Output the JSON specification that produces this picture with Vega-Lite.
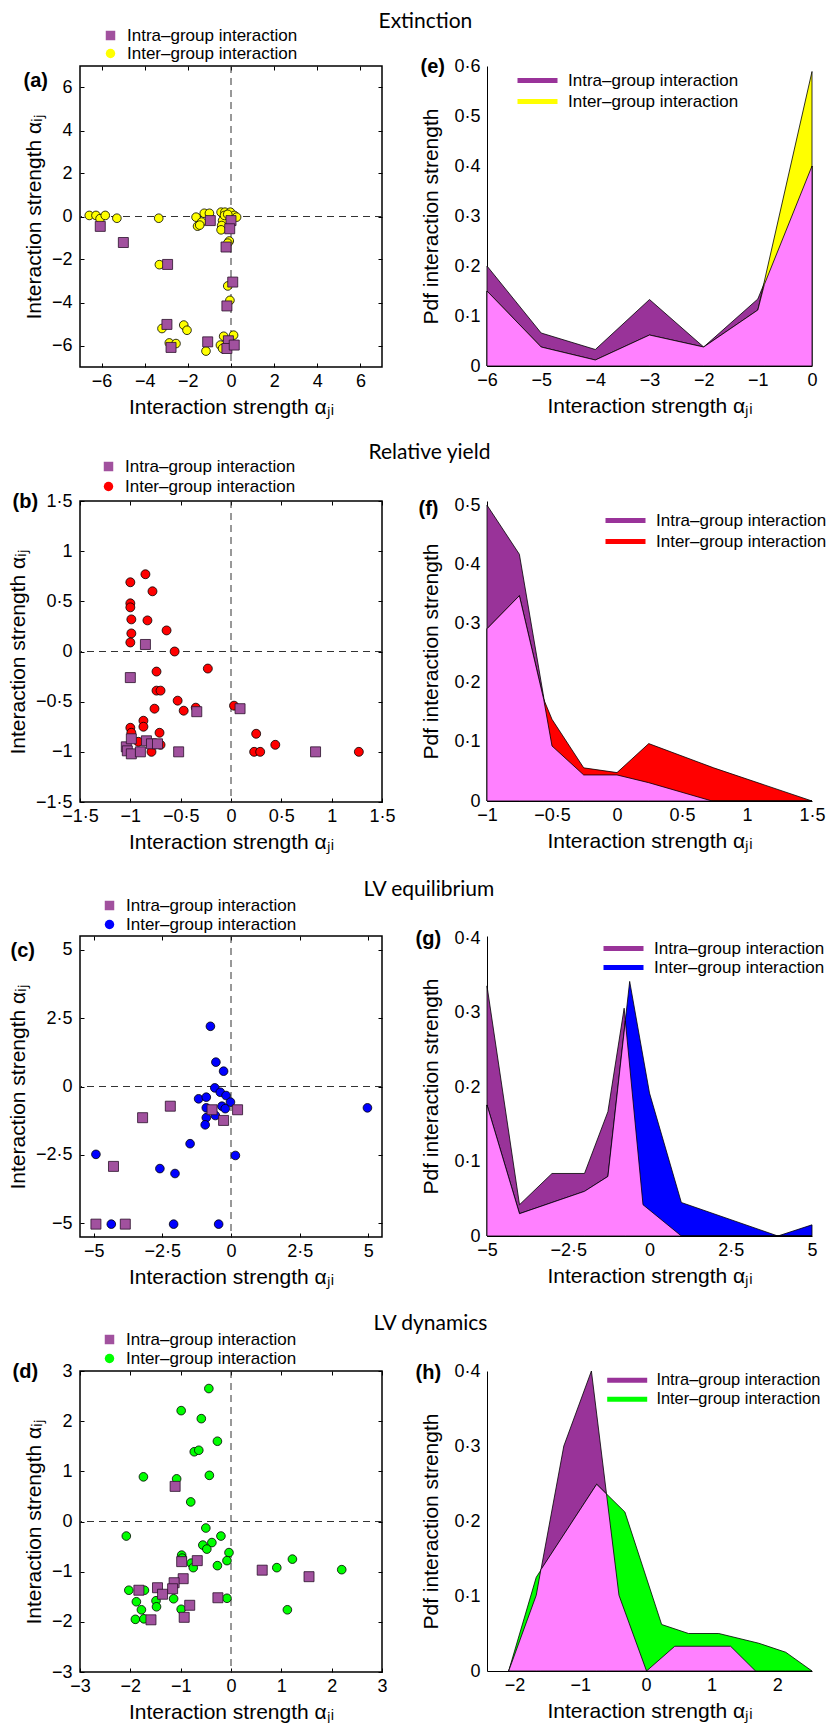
{
"$schema":"https://vega.github.io/schema/vega-lite/v6.json",
"padding":{"left":6,"top":9,"right":0,"bottom":0},
"background":"white",
"config":{
 "view":{"stroke":null},
 "axis":{"labelFont":"Liberation Sans","titleFont":"Liberation Sans","labelFontSize":18,"titleFontSize":21,"titleFontWeight":"normal","labelColor":"black","titleColor":"black","tickColor":"black","domainColor":"black","grid":false,"labelFlush":false,"labelOverlap":false,"format":".3~g"},
 "legend":{"labelFont":"Liberation Sans","labelFontSize":17,"labelColor":"black","labelLimit":0}
},
"datasets":{
"pa":[
{"x":-6.57,"y":0.05,"g":"Inter"},{"x":-6.26,"y":0.05,"g":"Inter"},{"x":-6.07,"y":-0.1,"g":"Inter"},{"x":-5.83,"y":0.05,"g":"Inter"},{"x":-5.29,"y":-0.08,"g":"Inter"},{"x":-3.35,"y":-0.08,"g":"Inter"},{"x":-3.32,"y":-2.24,"g":"Inter"},
{"x":-1.62,"y":-0.03,"g":"Inter"},{"x":-1.24,"y":0.15,"g":"Inter"},{"x":-1.0,"y":0.15,"g":"Inter"},{"x":-1.55,"y":-0.45,"g":"Inter"},{"x":-1.36,"y":-0.26,"g":"Inter"},{"x":-1.45,"y":-0.4,"g":"Inter"},
{"x":-0.46,"y":0.2,"g":"Inter"},{"x":-0.28,"y":0.2,"g":"Inter"},{"x":-0.03,"y":0.2,"g":"Inter"},{"x":0.15,"y":0.05,"g":"Inter"},{"x":0.26,"y":-0.03,"g":"Inter"},{"x":-0.39,"y":-0.19,"g":"Inter"},{"x":-0.43,"y":-0.42,"g":"Inter"},{"x":-0.46,"y":-0.62,"g":"Inter"},{"x":-0.3,"y":0.05,"g":"Inter"},{"x":-0.15,"y":0.1,"g":"Inter"},
{"x":-0.08,"y":-1.14,"g":"Inter"},{"x":-0.15,"y":-1.24,"g":"Inter"},{"x":-0.15,"y":-3.23,"g":"Inter"},{"x":-0.05,"y":-3.9,"g":"Inter"},
{"x":-3.2,"y":-5.21,"g":"Inter"},{"x":-2.19,"y":-5.05,"g":"Inter"},{"x":-2.04,"y":-5.29,"g":"Inter"},{"x":-2.86,"y":-5.88,"g":"Inter"},{"x":-2.55,"y":-5.91,"g":"Inter"},{"x":-1.16,"y":-6.26,"g":"Inter"},
{"x":-0.34,"y":-5.57,"g":"Inter"},{"x":-0.49,"y":-5.98,"g":"Inter"},{"x":0.12,"y":-5.52,"g":"Inter"},{"x":-0.39,"y":-6.14,"g":"Inter"},
{"x":-6.06,"y":-0.46,"g":"Intra"},{"x":-4.99,"y":-1.21,"g":"Intra"},{"x":-2.94,"y":-2.23,"g":"Intra"},{"x":-0.96,"y":-0.19,"g":"Intra"},{"x":0.0,"y":-0.19,"g":"Intra"},{"x":-0.06,"y":-0.57,"g":"Intra"},{"x":-0.23,"y":-1.42,"g":"Intra"},{"x":0.08,"y":-3.05,"g":"Intra"},{"x":-0.19,"y":-4.16,"g":"Intra"},{"x":-2.97,"y":-5.02,"g":"Intra"},{"x":-2.78,"y":-6.09,"g":"Intra"},{"x":-1.08,"y":-5.83,"g":"Intra"},{"x":-0.12,"y":-5.78,"g":"Intra"},{"x":-0.19,"y":-6.14,"g":"Intra"},{"x":0.15,"y":-5.98,"g":"Intra"}
],
"pb":[
{"x":-1.0,"y":0.69,"g":"Inter"},{"x":-0.85,"y":0.77,"g":"Inter"},{"x":-0.78,"y":0.6,"g":"Inter"},{"x":-1.0,"y":0.48,"g":"Inter"},{"x":-1.0,"y":0.44,"g":"Inter"},{"x":-0.99,"y":0.32,"g":"Inter"},{"x":-0.83,"y":0.31,"g":"Inter"},{"x":-0.64,"y":0.21,"g":"Inter"},{"x":-0.99,"y":0.18,"g":"Inter"},{"x":-1.0,"y":0.09,"g":"Inter"},{"x":-0.56,"y":0.0,"g":"Inter"},{"x":-0.74,"y":-0.2,"g":"Inter"},{"x":-0.74,"y":-0.39,"g":"Inter"},{"x":-0.7,"y":-0.39,"g":"Inter"},{"x":-0.53,"y":-0.49,"g":"Inter"},{"x":-0.76,"y":-0.57,"g":"Inter"},{"x":-0.47,"y":-0.59,"g":"Inter"},{"x":-0.35,"y":-0.56,"g":"Inter"},{"x":-0.23,"y":-0.17,"g":"Inter"},{"x":-0.87,"y":-0.69,"g":"Inter"},{"x":-0.87,"y":-0.75,"g":"Inter"},{"x":-1.0,"y":-0.76,"g":"Inter"},{"x":-0.99,"y":-0.81,"g":"Inter"},{"x":-0.71,"y":-0.81,"g":"Inter"},{"x":-0.7,"y":-0.93,"g":"Inter"},{"x":-0.79,"y":-1.0,"g":"Inter"},{"x":-0.92,"y":-0.9,"g":"Inter"},{"x":0.03,"y":-0.54,"g":"Inter"},{"x":0.25,"y":-0.82,"g":"Inter"},{"x":0.23,"y":-1.0,"g":"Inter"},{"x":0.29,"y":-1.0,"g":"Inter"},{"x":0.44,"y":-0.93,"g":"Inter"},{"x":1.27,"y":-1.0,"g":"Inter"},
{"x":-0.85,"y":0.07,"g":"Intra"},{"x":-1.0,"y":-0.26,"g":"Intra"},{"x":-0.34,"y":-0.6,"g":"Intra"},{"x":0.09,"y":-0.57,"g":"Intra"},{"x":-0.52,"y":-1.0,"g":"Intra"},{"x":0.84,"y":-1.0,"g":"Intra"},{"x":-1.04,"y":-0.95,"g":"Intra"},{"x":-1.03,"y":-0.99,"g":"Intra"},{"x":-0.99,"y":-0.87,"g":"Intra"},{"x":-0.99,"y":-1.02,"g":"Intra"},{"x":-0.9,"y":-1.0,"g":"Intra"},{"x":-0.84,"y":-0.89,"g":"Intra"},{"x":-0.79,"y":-0.92,"g":"Intra"},{"x":-0.73,"y":-0.92,"g":"Intra"}
],
"pc":[
{"x":-0.75,"y":2.2,"g":"Inter"},{"x":-0.55,"y":0.89,"g":"Inter"},{"x":-0.27,"y":0.56,"g":"Inter"},{"x":-0.59,"y":-0.05,"g":"Inter"},{"x":-0.39,"y":-0.21,"g":"Inter"},{"x":-0.18,"y":-0.33,"g":"Inter"},{"x":-1.18,"y":-0.45,"g":"Inter"},{"x":-0.9,"y":-0.39,"g":"Inter"},{"x":-0.02,"y":-0.57,"g":"Inter"},{"x":-0.33,"y":-0.72,"g":"Inter"},{"x":-0.21,"y":-0.81,"g":"Inter"},{"x":-0.9,"y":-0.78,"g":"Inter"},{"x":-0.57,"y":-1.06,"g":"Inter"},{"x":-0.9,"y":-1.14,"g":"Inter"},{"x":-0.94,"y":-1.4,"g":"Inter"},{"x":-1.49,"y":-2.09,"g":"Inter"},{"x":0.16,"y":-2.52,"g":"Inter"},{"x":-2.59,"y":-3.0,"g":"Inter"},{"x":-2.04,"y":-3.18,"g":"Inter"},{"x":-2.09,"y":-5.03,"g":"Inter"},{"x":-0.45,"y":-5.03,"g":"Inter"},{"x":4.97,"y":-0.78,"g":"Inter"},{"x":-4.92,"y":-2.48,"g":"Inter"},{"x":-4.36,"y":-5.03,"g":"Inter"},
{"x":-4.92,"y":-5.03,"g":"Intra"},{"x":-3.85,"y":-5.03,"g":"Intra"},{"x":-4.28,"y":-2.92,"g":"Intra"},{"x":-3.22,"y":-1.14,"g":"Intra"},{"x":-2.21,"y":-0.72,"g":"Intra"},{"x":-0.69,"y":-0.85,"g":"Intra"},{"x":-0.27,"y":-1.24,"g":"Intra"},{"x":0.24,"y":-0.85,"g":"Intra"}
],
"pd":[
{"x":-0.44,"y":2.65,"g":"Inter"},{"x":-0.99,"y":2.21,"g":"Inter"},{"x":-0.59,"y":2.05,"g":"Inter"},{"x":-0.27,"y":1.6,"g":"Inter"},{"x":-0.73,"y":1.39,"g":"Inter"},{"x":-0.64,"y":1.42,"g":"Inter"},{"x":-0.43,"y":0.92,"g":"Inter"},{"x":-1.08,"y":0.85,"g":"Inter"},{"x":-0.8,"y":0.39,"g":"Inter"},{"x":-0.5,"y":-0.13,"g":"Inter"},{"x":-0.2,"y":-0.29,"g":"Inter"},{"x":-0.56,"y":-0.47,"g":"Inter"},{"x":-0.38,"y":-0.42,"g":"Inter"},{"x":-0.48,"y":-0.55,"g":"Inter"},{"x":-0.04,"y":-0.62,"g":"Inter"},{"x":-0.08,"y":-0.78,"g":"Inter"},{"x":-0.27,"y":-0.88,"g":"Inter"},{"x":-0.79,"y":-0.83,"g":"Inter"},{"x":-0.75,"y":-0.92,"g":"Inter"},{"x":-0.98,"y":-0.67,"g":"Inter"},{"x":-0.97,"y":-0.73,"g":"Inter"},{"x":-1.14,"y":-1.54,"g":"Inter"},{"x":-0.08,"y":-1.53,"g":"Inter"},{"x":-0.99,"y":-1.75,"g":"Inter"},{"x":0.91,"y":-0.92,"g":"Inter"},{"x":1.22,"y":-0.75,"g":"Inter"},{"x":1.12,"y":-1.76,"g":"Inter"},{"x":2.2,"y":-0.96,"g":"Inter"},{"x":-1.74,"y":0.89,"g":"Inter"},{"x":-2.08,"y":-0.29,"g":"Inter"},{"x":-2.03,"y":-1.37,"g":"Inter"},{"x":-1.88,"y":-1.6,"g":"Inter"},{"x":-1.78,"y":-1.76,"g":"Inter"},{"x":-1.9,"y":-1.95,"g":"Inter"},{"x":-1.73,"y":-1.94,"g":"Inter"},{"x":-1.72,"y":-1.37,"g":"Inter"},{"x":-1.49,"y":-1.58,"g":"Inter"},{"x":-1.48,"y":-1.7,"g":"Inter"},
{"x":-1.11,"y":0.7,"g":"Intra"},{"x":-0.98,"y":-0.8,"g":"Intra"},{"x":-0.67,"y":-0.78,"g":"Intra"},{"x":0.62,"y":-0.97,"g":"Intra"},{"x":1.55,"y":-1.1,"g":"Intra"},{"x":-0.95,"y":-1.14,"g":"Intra"},{"x":-1.13,"y":-1.22,"g":"Intra"},{"x":-1.16,"y":-1.34,"g":"Intra"},{"x":-0.26,"y":-1.52,"g":"Intra"},{"x":-0.82,"y":-1.67,"g":"Intra"},{"x":-0.93,"y":-1.91,"g":"Intra"},{"x":-1.83,"y":-1.37,"g":"Intra"},{"x":-1.46,"y":-1.32,"g":"Intra"},{"x":-1.36,"y":-1.45,"g":"Intra"},{"x":-1.59,"y":-1.96,"g":"Intra"}
],
"ce":[
{"x":-6,"y":0.2,"g":"Intra"},{"x":-5,"y":0.066,"g":"Intra"},{"x":-4,"y":0.033,"g":"Intra"},{"x":-3,"y":0.133,"g":"Intra"},{"x":-2,"y":0.038,"g":"Intra"},{"x":-1,"y":0.134,"g":"Intra"},{"x":0,"y":0.4,"g":"Intra"},
{"x":-6,"y":0.15,"g":"Inter"},{"x":-5,"y":0.038,"g":"Inter"},{"x":-4,"y":0.012,"g":"Inter"},{"x":-3,"y":0.062,"g":"Inter"},{"x":-2,"y":0.038,"g":"Inter"},{"x":-1,"y":0.112,"g":"Inter"},{"x":0,"y":0.589,"g":"Inter"}
],
"oe":[{"x":-6,"y":0.15},{"x":-5,"y":0.038},{"x":-4,"y":0.012},{"x":-3,"y":0.062},{"x":-2,"y":0.038},{"x":-1,"y":0.112},{"x":-0.88,"y":0.163},{"x":0,"y":0.4}],
"cf":[
{"x":-1,"y":0.5,"g":"Intra"},{"x":-0.751,"y":0.417,"g":"Intra"},{"x":-0.5,"y":0.093,"g":"Intra"},{"x":-0.256,"y":0.044,"g":"Intra"},{"x":0,"y":0.044,"g":"Intra"},{"x":0.244,"y":0.031,"g":"Intra"},{"x":0.731,"y":0,"g":"Intra"},{"x":1.5,"y":0,"g":"Intra"},
{"x":-1,"y":0.291,"g":"Inter"},{"x":-0.751,"y":0.347,"g":"Inter"},{"x":-0.564,"y":0.172,"g":"Inter"},{"x":-0.5,"y":0.138,"g":"Inter"},{"x":-0.256,"y":0.056,"g":"Inter"},{"x":0,"y":0.048,"g":"Inter"},{"x":0.244,"y":0.097,"g":"Inter"},{"x":0.744,"y":0.056,"g":"Inter"},{"x":1.5,"y":0,"g":"Inter"}
],
"of":[{"x":-1,"y":0.291},{"x":-0.751,"y":0.347},{"x":-0.564,"y":0.172},{"x":-0.5,"y":0.093},{"x":-0.256,"y":0.044},{"x":0,"y":0.044},{"x":0.244,"y":0.031},{"x":0.731,"y":0},{"x":1.5,"y":0}],
"cg":[
{"x":-5,"y":0.336,"g":"Intra"},{"x":-4,"y":0.042,"g":"Intra"},{"x":-3,"y":0.084,"g":"Intra"},{"x":-2,"y":0.084,"g":"Intra"},{"x":-1.28,"y":0.167,"g":"Intra"},{"x":-0.78,"y":0.306,"g":"Intra"},{"x":-0.2,"y":0.042,"g":"Intra"},{"x":0.98,"y":0,"g":"Intra"},{"x":5,"y":0,"g":"Intra"},
{"x":-5,"y":0.176,"g":"Inter"},{"x":-4,"y":0.03,"g":"Inter"},{"x":-2,"y":0.06,"g":"Inter"},{"x":-1.28,"y":0.08,"g":"Inter"},{"x":-0.61,"y":0.342,"g":"Inter"},{"x":0,"y":0.192,"g":"Inter"},{"x":0.98,"y":0.045,"g":"Inter"},{"x":3.95,"y":0,"g":"Inter"},{"x":5,"y":0.015,"g":"Inter"}
],
"og":[{"x":-5,"y":0.176},{"x":-4,"y":0.03},{"x":-2,"y":0.06},{"x":-1.28,"y":0.08},{"x":-0.743,"y":0.289},{"x":-0.2,"y":0.042},{"x":0.98,"y":0},{"x":5,"y":0}],
"ch":[
{"x":-2.09,"y":0,"g":"Intra"},{"x":-1.67,"y":0.101,"g":"Intra"},{"x":-1.25,"y":0.3,"g":"Intra"},{"x":-0.83,"y":0.4,"g":"Intra"},{"x":-0.41,"y":0.101,"g":"Intra"},{"x":0.01,"y":0,"g":"Intra"},{"x":0.44,"y":0.033,"g":"Intra"},{"x":1.29,"y":0.033,"g":"Intra"},{"x":1.67,"y":0,"g":"Intra"},
{"x":-2.09,"y":0,"g":"Inter"},{"x":-1.67,"y":0.125,"g":"Inter"},{"x":-0.75,"y":0.249,"g":"Inter"},{"x":-0.32,"y":0.212,"g":"Inter"},{"x":0.24,"y":0.062,"g":"Inter"},{"x":0.65,"y":0.05,"g":"Inter"},{"x":1.11,"y":0.05,"g":"Inter"},{"x":1.72,"y":0.037,"g":"Inter"},{"x":2.13,"y":0.025,"g":"Inter"},{"x":2.53,"y":0,"g":"Inter"}
],
"oh":[{"x":-2.09,"y":0},{"x":-1.67,"y":0.101},{"x":-1.6,"y":0.135},{"x":-0.75,"y":0.249},{"x":-0.6,"y":0.236},{"x":-0.41,"y":0.101},{"x":0.01,"y":0},{"x":0.44,"y":0.033},{"x":1.29,"y":0.033},{"x":1.67,"y":0}]
},
"columns":2,
"bounds":"flush",
"spacing":{"row":134,"column":105},
"resolve":{"scale":{"x":"independent","y":"independent","color":"independent","shape":"independent","fill":"independent"},"legend":{"color":"independent","shape":"independent","fill":"independent"},"axis":{"x":"independent","y":"independent"}},
"concat":[
 {"width":302,"height":301,"view":{"stroke":"black","strokeWidth":1.5},
  "layer":[
   {"data":{"values":[{}]},"mark":{"type":"rule","strokeDash":[7,5],"color":"#333333","strokeWidth":1},"encoding":{"x":{"datum":0,"type":"quantitative","scale":{"domain":[-7,7],"nice":false,"zero":false},"axis":null}}},
   {"data":{"values":[{}]},"mark":{"type":"rule","strokeDash":[7,5],"color":"#333333","strokeWidth":1},"encoding":{"y":{"datum":0,"type":"quantitative","scale":{"domain":[-7,7],"nice":false,"zero":false},"axis":null}}},
   {"data":{"name":"pa"},"transform":[{"filter":"datum.g == 'Inter'"}],"mark":{"type":"point","filled":true,"size":75,"opacity":1,"stroke":"black","strokeWidth":0.8},
    "encoding":{
     "x":{"field":"x","type":"quantitative","scale":{"domain":[-7,7],"nice":false,"zero":false},"axis":{"values":[-6,-4,-2,0,2,4,6],"labelExpr":"replace(datum.label, '.', '·')","tickSize":-4,"domain":false,"labelPadding":9,"title":"Interaction strength αⱼᵢ","titlePadding":6}},
     "y":{"field":"y","type":"quantitative","scale":{"domain":[-7,7],"nice":false,"zero":false},"axis":{"values":[-6,-4,-2,0,2,4,6],"labelExpr":"replace(datum.label, '.', '·')","tickSize":-4,"domain":false,"labelPadding":12,"title":"Interaction strength αᵢⱼ","titlePadding":7}},
     "color":{"field":"g","type":"nominal","scale":{"domain":["Intra","Inter"],"range":["#A1519E","#FFFF00"]},"legend":{"orient":"none","legendX":22,"legendY":-39,"title":null,"padding":0,"labelOffset":8,"rowPadding":0,"symbolSize":90,"symbolStrokeColor":"black","symbolStrokeWidth":0.8,"symbolOpacity":1,"labelExpr":"datum.label == 'Intra' ? 'Intra–group interaction' : 'Inter–group interaction'"}},
     "shape":{"field":"g","type":"nominal","scale":{"domain":["Intra","Inter"],"range":["square","circle"]},"legend":{"orient":"none","legendX":22,"legendY":-39,"title":null,"padding":0,"labelOffset":8,"rowPadding":0,"symbolSize":90,"symbolStrokeColor":"black","symbolStrokeWidth":0.8,"symbolOpacity":1,"labelExpr":"datum.label == 'Intra' ? 'Intra–group interaction' : 'Inter–group interaction'"}}
    }},
   {"data":{"name":"pa"},"transform":[{"filter":"datum.g == 'Intra'"}],"mark":{"type":"point","filled":true,"size":100,"opacity":1,"stroke":"#2A102A","strokeWidth":0.8},
    "encoding":{
     "x":{"field":"x","type":"quantitative","scale":{"domain":[-7,7],"nice":false,"zero":false},"axis":{"orient":"top","values":[-6,-4,-2,0,2,4,6],"tickSize":-4,"labels":false,"domain":false,"title":"(a)","titleX":-57,"titleY":20,"titleAlign":"left","titleBaseline":"alphabetic","titleAngle":0,"titleFontWeight":"bold","titleFontSize":20}},
     "y":{"field":"y","type":"quantitative","scale":{"domain":[-7,7],"nice":false,"zero":false},"axis":{"orient":"right","values":[-6,-4,-2,0,2,4,6],"tickSize":-4,"labels":false,"domain":false,"title":"Extinction","titleX":-4,"titleY":-39,"titleAlign":"left","titleBaseline":"alphabetic","titleAngle":0,"titleFont":"Lato","titleFontSize":21}},
     "color":{"field":"g","type":"nominal","scale":{"domain":["Intra","Inter"],"range":["#A1519E","#FFFF00"]},"legend":{"orient":"none","legendX":22,"legendY":-39,"title":null,"padding":0,"labelOffset":8,"rowPadding":0,"symbolSize":90,"symbolStrokeColor":"black","symbolStrokeWidth":0.8,"symbolOpacity":1,"labelExpr":"datum.label == 'Intra' ? 'Intra–group interaction' : 'Inter–group interaction'"}},
     "shape":{"field":"g","type":"nominal","scale":{"domain":["Intra","Inter"],"range":["square","circle"]},"legend":{"orient":"none","legendX":22,"legendY":-39,"title":null,"padding":0,"labelOffset":8,"rowPadding":0,"symbolSize":90,"symbolStrokeColor":"black","symbolStrokeWidth":0.8,"symbolOpacity":1,"labelExpr":"datum.label == 'Intra' ? 'Intra–group interaction' : 'Inter–group interaction'"}}
    }}
  ],
  "resolve":{"axis":{"x":"independent","y":"independent"}}
 },
 {"width":325,"height":300,
  "layer":[
   {"data":{"name":"ce"},"mark":{"type":"area","stroke":"black","strokeWidth":0.8,"opacity":1},
    "encoding":{
     "x":{"field":"x","type":"quantitative","scale":{"domain":[-6,0],"nice":false,"zero":false},"axis":{"values":[-6,-5,-4,-3,-2,-1,0],"labelExpr":"replace(datum.label, '.', '·')","ticks":false,"domain":true,"labelPadding":5,"title":"Interaction strength αⱼᵢ","titlePadding":6}},
     "y":{"field":"y","type":"quantitative","stack":null,"scale":{"domain":[0,0.6],"nice":false,"zero":false},"axis":{"values":[0,0.1,0.2,0.3,0.4,0.5,0.6],"labelExpr":"replace(datum.label, '.', '·')","ticks":false,"domain":true,"labelPadding":7,"title":"Pdf interaction strength","titlePadding":12}},
     "fill":{"field":"g","type":"nominal","scale":{"domain":["Intra","Inter"],"range":["#993399","#FFFF00"]},"legend":{"orient":"none","legendX":42,"legendY":6,"title":null,"padding":0,"symbolType":"M-4,-0.5H4V0.5H-4Z","symbolSize":100,"symbolStrokeWidth":0,"symbolStrokeColor":"transparent","symbolOpacity":1,"labelOffset":22,"rowPadding":3,"labelExpr":"datum.label == 'Intra' ? 'Intra–group interaction' : 'Inter–group interaction'"}}
    }},
   {"data":{"name":"oe"},"mark":{"type":"area","fill":"#FF80FF","stroke":"black","strokeWidth":0.8,"opacity":1},
    "encoding":{
     "x":{"field":"x","type":"quantitative","scale":{"domain":[-6,0],"nice":false,"zero":false},"axis":{"orient":"top","labels":false,"ticks":false,"domain":false,"title":"(e)","titleX":-67,"titleY":6,"titleAlign":"left","titleBaseline":"alphabetic","titleAngle":0,"titleFontWeight":"bold","titleFontSize":20}},
     "y":{"field":"y","type":"quantitative","stack":null,"scale":{"domain":[0,0.6],"nice":false,"zero":false},"axis":{"values":[0,0.1,0.2,0.3,0.4,0.5,0.6],"labelExpr":"replace(datum.label, '.', '·')","ticks":false,"domain":true,"labelPadding":7,"title":"Pdf interaction strength","titlePadding":12}}
    }}
  ],
  "resolve":{"axis":{"x":"independent"}}
 },
 {"width":302,"height":301,"view":{"stroke":"black","strokeWidth":1.5},
  "layer":[
   {"data":{"values":[{}]},"mark":{"type":"rule","strokeDash":[7,5],"color":"#333333","strokeWidth":1},"encoding":{"x":{"datum":0,"type":"quantitative","scale":{"domain":[-1.5,1.5],"nice":false,"zero":false},"axis":null}}},
   {"data":{"values":[{}]},"mark":{"type":"rule","strokeDash":[7,5],"color":"#333333","strokeWidth":1},"encoding":{"y":{"datum":0,"type":"quantitative","scale":{"domain":[-1.5,1.5],"nice":false,"zero":false},"axis":null}}},
   {"data":{"name":"pb"},"transform":[{"filter":"datum.g == 'Inter'"}],"mark":{"type":"point","filled":true,"size":80,"opacity":1,"stroke":"black","strokeWidth":0.8},
    "encoding":{
     "x":{"field":"x","type":"quantitative","scale":{"domain":[-1.5,1.5],"nice":false,"zero":false},"axis":{"values":[-1.5,-1,-0.5,0,0.5,1,1.5],"labelExpr":"replace(datum.label, '.', '·')","tickSize":-4,"domain":false,"labelPadding":9,"title":"Interaction strength αⱼᵢ","titlePadding":6}},
     "y":{"field":"y","type":"quantitative","scale":{"domain":[-1.5,1.5],"nice":false,"zero":false},"axis":{"values":[-1.5,-1,-0.5,0,0.5,1,1.5],"labelExpr":"replace(datum.label, '.', '·')","tickSize":-4,"domain":false,"labelPadding":12,"title":"Interaction strength αᵢⱼ","titlePadding":7}},
     "color":{"field":"g","type":"nominal","scale":{"domain":["Intra","Inter"],"range":["#A1519E","#FF0000"]},"legend":{"orient":"none","legendX":20,"legendY":-43,"title":null,"padding":0,"labelOffset":8,"rowPadding":2,"symbolSize":90,"symbolStrokeColor":"black","symbolStrokeWidth":0.8,"symbolOpacity":1,"labelExpr":"datum.label == 'Intra' ? 'Intra–group interaction' : 'Inter–group interaction'"}},
     "shape":{"field":"g","type":"nominal","scale":{"domain":["Intra","Inter"],"range":["square","circle"]},"legend":{"orient":"none","legendX":20,"legendY":-43,"title":null,"padding":0,"labelOffset":8,"rowPadding":2,"symbolSize":90,"symbolStrokeColor":"black","symbolStrokeWidth":0.8,"symbolOpacity":1,"labelExpr":"datum.label == 'Intra' ? 'Intra–group interaction' : 'Inter–group interaction'"}}
    }},
   {"data":{"name":"pb"},"transform":[{"filter":"datum.g == 'Intra'"}],"mark":{"type":"point","filled":true,"size":100,"opacity":1,"stroke":"#2A102A","strokeWidth":0.8},
    "encoding":{
     "x":{"field":"x","type":"quantitative","scale":{"domain":[-1.5,1.5],"nice":false,"zero":false},"axis":{"orient":"top","values":[-1.5,-1,-0.5,0,0.5,1,1.5],"tickSize":-4,"labels":false,"domain":false,"title":"(b)","titleX":-68,"titleY":6,"titleAlign":"left","titleBaseline":"alphabetic","titleAngle":0,"titleFontWeight":"bold","titleFontSize":20}},
     "y":{"field":"y","type":"quantitative","scale":{"domain":[-1.5,1.5],"nice":false,"zero":false},"axis":{"orient":"right","values":[-1.5,-1,-0.5,0,0.5,1,1.5],"tickSize":-4,"labels":false,"domain":false,"title":"Relative yield","titleX":-14,"titleY":-43,"titleAlign":"left","titleBaseline":"alphabetic","titleAngle":0,"titleFont":"Lato","titleFontSize":21}},
     "color":{"field":"g","type":"nominal","scale":{"domain":["Intra","Inter"],"range":["#A1519E","#FF0000"]},"legend":{"orient":"none","legendX":20,"legendY":-43,"title":null,"padding":0,"labelOffset":8,"rowPadding":2,"symbolSize":90,"symbolStrokeColor":"black","symbolStrokeWidth":0.8,"symbolOpacity":1,"labelExpr":"datum.label == 'Intra' ? 'Intra–group interaction' : 'Inter–group interaction'"}},
     "shape":{"field":"g","type":"nominal","scale":{"domain":["Intra","Inter"],"range":["square","circle"]},"legend":{"orient":"none","legendX":20,"legendY":-43,"title":null,"padding":0,"labelOffset":8,"rowPadding":2,"symbolSize":90,"symbolStrokeColor":"black","symbolStrokeWidth":0.8,"symbolOpacity":1,"labelExpr":"datum.label == 'Intra' ? 'Intra–group interaction' : 'Inter–group interaction'"}}
    }}
  ],
  "resolve":{"axis":{"x":"independent","y":"independent"}}
 },
 {"width":325,"height":300,
  "layer":[
   {"data":{"name":"cf"},"mark":{"type":"area","stroke":"black","strokeWidth":0.8,"opacity":1},
    "encoding":{
     "x":{"field":"x","type":"quantitative","scale":{"domain":[-1,1.5],"nice":false,"zero":false},"axis":{"values":[-1,-0.5,0,0.5,1,1.5],"labelExpr":"replace(datum.label, '.', '·')","ticks":false,"domain":true,"labelPadding":5,"title":"Interaction strength αⱼᵢ","titlePadding":6}},
     "y":{"field":"y","type":"quantitative","stack":null,"scale":{"domain":[0,0.507],"nice":false,"zero":false},"axis":{"values":[0,0.1,0.2,0.3,0.4,0.5],"labelExpr":"replace(datum.label, '.', '·')","ticks":false,"domain":true,"labelPadding":7,"title":"Pdf interaction strength","titlePadding":12}},
     "fill":{"field":"g","type":"nominal","scale":{"domain":["Intra","Inter"],"range":["#993399","#FF0000"]},"legend":{"orient":"none","legendX":130,"legendY":11,"title":null,"padding":0,"symbolType":"M-4,-0.5H4V0.5H-4Z","symbolSize":100,"symbolStrokeWidth":0,"symbolStrokeColor":"transparent","symbolOpacity":1,"labelOffset":22,"rowPadding":3,"labelExpr":"datum.label == 'Intra' ? 'Intra–group interaction' : 'Inter–group interaction'"}}
    }},
   {"data":{"name":"of"},"mark":{"type":"area","fill":"#FF80FF","stroke":"black","strokeWidth":0.8,"opacity":1},
    "encoding":{
     "x":{"field":"x","type":"quantitative","scale":{"domain":[-1,1.5],"nice":false,"zero":false},"axis":{"orient":"top","labels":false,"ticks":false,"domain":false,"title":"(f)","titleX":-69,"titleY":13,"titleAlign":"left","titleBaseline":"alphabetic","titleAngle":0,"titleFontWeight":"bold","titleFontSize":20}},
     "y":{"field":"y","type":"quantitative","stack":null,"scale":{"domain":[0,0.507],"nice":false,"zero":false},"axis":{"values":[0,0.1,0.2,0.3,0.4,0.5],"labelExpr":"replace(datum.label, '.', '·')","ticks":false,"domain":true,"labelPadding":7,"title":"Pdf interaction strength","titlePadding":12}}
    }}
  ],
  "resolve":{"axis":{"x":"independent"}}
 },
 {"width":302,"height":301,"view":{"stroke":"black","strokeWidth":1.5},
  "layer":[
   {"data":{"values":[{}]},"mark":{"type":"rule","strokeDash":[7,5],"color":"#333333","strokeWidth":1},"encoding":{"x":{"datum":0,"type":"quantitative","scale":{"domain":[-5.5,5.5],"nice":false,"zero":false},"axis":null}}},
   {"data":{"values":[{}]},"mark":{"type":"rule","strokeDash":[7,5],"color":"#333333","strokeWidth":1},"encoding":{"y":{"datum":0,"type":"quantitative","scale":{"domain":[-5.5,5.5],"nice":false,"zero":false},"axis":null}}},
   {"data":{"name":"pc"},"transform":[{"filter":"datum.g == 'Inter'"}],"mark":{"type":"point","filled":true,"size":75,"opacity":1,"stroke":"black","strokeWidth":0.8},
    "encoding":{
     "x":{"field":"x","type":"quantitative","scale":{"domain":[-5.5,5.5],"nice":false,"zero":false},"axis":{"values":[-5,-2.5,0,2.5,5],"labelExpr":"replace(datum.label, '.', '·')","tickSize":-4,"domain":false,"labelPadding":9,"title":"Interaction strength αⱼᵢ","titlePadding":6}},
     "y":{"field":"y","type":"quantitative","scale":{"domain":[-5.5,5.5],"nice":false,"zero":false},"axis":{"values":[-5,-2.5,0,2.5,5],"labelExpr":"replace(datum.label, '.', '·')","tickSize":-4,"domain":false,"labelPadding":12,"title":"Interaction strength αᵢⱼ","titlePadding":7}},
     "color":{"field":"g","type":"nominal","scale":{"domain":["Intra","Inter"],"range":["#A1519E","#0000FF"]},"legend":{"orient":"none","legendX":21,"legendY":-39,"title":null,"padding":0,"labelOffset":8,"rowPadding":1,"symbolSize":90,"symbolStrokeColor":"black","symbolStrokeWidth":0.8,"symbolOpacity":1,"labelExpr":"datum.label == 'Intra' ? 'Intra–group interaction' : 'Inter–group interaction'"}},
     "shape":{"field":"g","type":"nominal","scale":{"domain":["Intra","Inter"],"range":["square","circle"]},"legend":{"orient":"none","legendX":21,"legendY":-39,"title":null,"padding":0,"labelOffset":8,"rowPadding":1,"symbolSize":90,"symbolStrokeColor":"black","symbolStrokeWidth":0.8,"symbolOpacity":1,"labelExpr":"datum.label == 'Intra' ? 'Intra–group interaction' : 'Inter–group interaction'"}}
    }},
   {"data":{"name":"pc"},"transform":[{"filter":"datum.g == 'Intra'"}],"mark":{"type":"point","filled":true,"size":100,"opacity":1,"stroke":"#2A102A","strokeWidth":0.8},
    "encoding":{
     "x":{"field":"x","type":"quantitative","scale":{"domain":[-5.5,5.5],"nice":false,"zero":false},"axis":{"orient":"top","values":[-5,-2.5,0,2.5,5],"tickSize":-4,"labels":false,"domain":false,"title":"(c)","titleX":-70,"titleY":20,"titleAlign":"left","titleBaseline":"alphabetic","titleAngle":0,"titleFontWeight":"bold","titleFontSize":20}},
     "y":{"field":"y","type":"quantitative","scale":{"domain":[-5.5,5.5],"nice":false,"zero":false},"axis":{"orient":"right","values":[-5,-2.5,0,2.5,5],"tickSize":-4,"labels":false,"domain":false,"title":"LV equilibrium","titleX":-19,"titleY":-41,"titleAlign":"left","titleBaseline":"alphabetic","titleAngle":0,"titleFont":"Lato","titleFontSize":21}},
     "color":{"field":"g","type":"nominal","scale":{"domain":["Intra","Inter"],"range":["#A1519E","#0000FF"]},"legend":{"orient":"none","legendX":21,"legendY":-39,"title":null,"padding":0,"labelOffset":8,"rowPadding":1,"symbolSize":90,"symbolStrokeColor":"black","symbolStrokeWidth":0.8,"symbolOpacity":1,"labelExpr":"datum.label == 'Intra' ? 'Intra–group interaction' : 'Inter–group interaction'"}},
     "shape":{"field":"g","type":"nominal","scale":{"domain":["Intra","Inter"],"range":["square","circle"]},"legend":{"orient":"none","legendX":21,"legendY":-39,"title":null,"padding":0,"labelOffset":8,"rowPadding":1,"symbolSize":90,"symbolStrokeColor":"black","symbolStrokeWidth":0.8,"symbolOpacity":1,"labelExpr":"datum.label == 'Intra' ? 'Intra–group interaction' : 'Inter–group interaction'"}}
    }}
  ],
  "resolve":{"axis":{"x":"independent","y":"independent"}}
 },
 {"width":325,"height":300,
  "layer":[
   {"data":{"name":"cg"},"mark":{"type":"area","stroke":"black","strokeWidth":0.8,"opacity":1},
    "encoding":{
     "x":{"field":"x","type":"quantitative","scale":{"domain":[-5,5],"nice":false,"zero":false},"axis":{"values":[-5,-2.5,0,2.5,5],"labelExpr":"replace(datum.label, '.', '·')","ticks":false,"domain":true,"labelPadding":5,"title":"Interaction strength αⱼᵢ","titlePadding":6}},
     "y":{"field":"y","type":"quantitative","stack":null,"scale":{"domain":[0,0.403],"nice":false,"zero":false},"axis":{"values":[0,0.1,0.2,0.3,0.4],"labelExpr":"replace(datum.label, '.', '·')","ticks":false,"domain":true,"labelPadding":7,"title":"Pdf interaction strength","titlePadding":12}},
     "fill":{"field":"g","type":"nominal","scale":{"domain":["Intra","Inter"],"range":["#993399","#0000FF"]},"legend":{"orient":"none","legendX":128,"legendY":4,"title":null,"padding":0,"symbolType":"M-4,-0.5H4V0.5H-4Z","symbolSize":100,"symbolStrokeWidth":0,"symbolStrokeColor":"transparent","symbolOpacity":1,"labelOffset":22,"rowPadding":1,"labelExpr":"datum.label == 'Intra' ? 'Intra–group interaction' : 'Inter–group interaction'"}}
    }},
   {"data":{"name":"og"},"mark":{"type":"area","fill":"#FF80FF","stroke":"black","strokeWidth":0.8,"opacity":1},
    "encoding":{
     "x":{"field":"x","type":"quantitative","scale":{"domain":[-5,5],"nice":false,"zero":false},"axis":{"orient":"top","labels":false,"ticks":false,"domain":false,"title":"(g)","titleX":-72,"titleY":8,"titleAlign":"left","titleBaseline":"alphabetic","titleAngle":0,"titleFontWeight":"bold","titleFontSize":20}},
     "y":{"field":"y","type":"quantitative","stack":null,"scale":{"domain":[0,0.403],"nice":false,"zero":false},"axis":{"values":[0,0.1,0.2,0.3,0.4],"labelExpr":"replace(datum.label, '.', '·')","ticks":false,"domain":true,"labelPadding":7,"title":"Pdf interaction strength","titlePadding":12}}
    }}
  ],
  "resolve":{"axis":{"x":"independent"}}
 },
 {"width":302,"height":301,"view":{"stroke":"black","strokeWidth":1.5},
  "layer":[
   {"data":{"values":[{}]},"mark":{"type":"rule","strokeDash":[7,5],"color":"#333333","strokeWidth":1},"encoding":{"x":{"datum":0,"type":"quantitative","scale":{"domain":[-3,3],"nice":false,"zero":false},"axis":null}}},
   {"data":{"values":[{}]},"mark":{"type":"rule","strokeDash":[7,5],"color":"#333333","strokeWidth":1},"encoding":{"y":{"datum":0,"type":"quantitative","scale":{"domain":[-3,3],"nice":false,"zero":false},"axis":null}}},
   {"data":{"name":"pd"},"transform":[{"filter":"datum.g == 'Inter'"}],"mark":{"type":"point","filled":true,"size":75,"opacity":1,"stroke":"black","strokeWidth":0.8},
    "encoding":{
     "x":{"field":"x","type":"quantitative","scale":{"domain":[-3,3],"nice":false,"zero":false},"axis":{"values":[-3,-2,-1,0,1,2,3],"labelExpr":"replace(datum.label, '.', '·')","tickSize":-4,"domain":false,"labelPadding":9,"title":"Interaction strength αⱼᵢ","titlePadding":6}},
     "y":{"field":"y","type":"quantitative","scale":{"domain":[-3,3],"nice":false,"zero":false},"axis":{"values":[-3,-2,-1,0,1,2,3],"labelExpr":"replace(datum.label, '.', '·')","tickSize":-4,"domain":false,"labelPadding":12,"title":"Interaction strength αᵢⱼ","titlePadding":7}},
     "color":{"field":"g","type":"nominal","scale":{"domain":["Intra","Inter"],"range":["#A1519E","#00FF00"]},"legend":{"orient":"none","legendX":21,"legendY":-40,"title":null,"padding":0,"labelOffset":8,"rowPadding":1,"symbolSize":90,"symbolStrokeColor":"black","symbolStrokeWidth":0.8,"symbolOpacity":1,"labelExpr":"datum.label == 'Intra' ? 'Intra–group interaction' : 'Inter–group interaction'"}},
     "shape":{"field":"g","type":"nominal","scale":{"domain":["Intra","Inter"],"range":["square","circle"]},"legend":{"orient":"none","legendX":21,"legendY":-40,"title":null,"padding":0,"labelOffset":8,"rowPadding":1,"symbolSize":90,"symbolStrokeColor":"black","symbolStrokeWidth":0.8,"symbolOpacity":1,"labelExpr":"datum.label == 'Intra' ? 'Intra–group interaction' : 'Inter–group interaction'"}}
    }},
   {"data":{"name":"pd"},"transform":[{"filter":"datum.g == 'Intra'"}],"mark":{"type":"point","filled":true,"size":100,"opacity":1,"stroke":"#2A102A","strokeWidth":0.8},
    "encoding":{
     "x":{"field":"x","type":"quantitative","scale":{"domain":[-3,3],"nice":false,"zero":false},"axis":{"orient":"top","values":[-3,-2,-1,0,1,2,3],"tickSize":-4,"labels":false,"domain":false,"title":"(d)","titleX":-68,"titleY":6,"titleAlign":"left","titleBaseline":"alphabetic","titleAngle":0,"titleFontWeight":"bold","titleFontSize":20}},
     "y":{"field":"y","type":"quantitative","scale":{"domain":[-3,3],"nice":false,"zero":false},"axis":{"orient":"right","values":[-3,-2,-1,0,1,2,3],"tickSize":-4,"labels":false,"domain":false,"title":"LV dynamics","titleX":-9,"titleY":-42,"titleAlign":"left","titleBaseline":"alphabetic","titleAngle":0,"titleFont":"Lato","titleFontSize":21}},
     "color":{"field":"g","type":"nominal","scale":{"domain":["Intra","Inter"],"range":["#A1519E","#00FF00"]},"legend":{"orient":"none","legendX":21,"legendY":-40,"title":null,"padding":0,"labelOffset":8,"rowPadding":1,"symbolSize":90,"symbolStrokeColor":"black","symbolStrokeWidth":0.8,"symbolOpacity":1,"labelExpr":"datum.label == 'Intra' ? 'Intra–group interaction' : 'Inter–group interaction'"}},
     "shape":{"field":"g","type":"nominal","scale":{"domain":["Intra","Inter"],"range":["square","circle"]},"legend":{"orient":"none","legendX":21,"legendY":-40,"title":null,"padding":0,"labelOffset":8,"rowPadding":1,"symbolSize":90,"symbolStrokeColor":"black","symbolStrokeWidth":0.8,"symbolOpacity":1,"labelExpr":"datum.label == 'Intra' ? 'Intra–group interaction' : 'Inter–group interaction'"}}
    }}
  ],
  "resolve":{"axis":{"x":"independent","y":"independent"}}
 },
 {"width":325,"height":300,
  "layer":[
   {"data":{"name":"ch"},"mark":{"type":"area","stroke":"black","strokeWidth":0.8,"opacity":1},
    "encoding":{
     "x":{"field":"x","type":"quantitative","scale":{"domain":[-2.42,2.53],"nice":false,"zero":false},"axis":{"values":[-2,-1,0,1,2],"labelExpr":"replace(datum.label, '.', '·')","ticks":false,"domain":true,"labelPadding":5,"title":"Interaction strength αⱼᵢ","titlePadding":6}},
     "y":{"field":"y","type":"quantitative","stack":null,"scale":{"domain":[0,0.4],"nice":false,"zero":false},"axis":{"values":[0,0.1,0.2,0.3,0.4],"labelExpr":"replace(datum.label, '.', '·')","ticks":false,"domain":true,"labelPadding":7,"title":"Pdf interaction strength","titlePadding":12}},
     "fill":{"field":"g","type":"nominal","scale":{"domain":["Intra","Inter"],"range":["#993399","#00FF00"]},"legend":{"orient":"none","legendX":132,"legendY":1,"title":null,"padding":0,"symbolType":"M-4,-0.5H4V0.5H-4Z","symbolSize":100,"symbolStrokeWidth":0,"symbolStrokeColor":"transparent","symbolOpacity":1,"labelOffset":21,"labelFontSize":16.4,"rowPadding":2,"labelExpr":"datum.label == 'Intra' ? 'Intra–group interaction' : 'Inter–group interaction'"}}
    }},
   {"data":{"name":"oh"},"mark":{"type":"area","fill":"#FF80FF","stroke":"black","strokeWidth":0.8,"opacity":1},
    "encoding":{
     "x":{"field":"x","type":"quantitative","scale":{"domain":[-2.42,2.53],"nice":false,"zero":false},"axis":{"orient":"top","labels":false,"ticks":false,"domain":false,"title":"(h)","titleX":-72,"titleY":7,"titleAlign":"left","titleBaseline":"alphabetic","titleAngle":0,"titleFontWeight":"bold","titleFontSize":20}},
     "y":{"field":"y","type":"quantitative","stack":null,"scale":{"domain":[0,0.4],"nice":false,"zero":false},"axis":{"values":[0,0.1,0.2,0.3,0.4],"labelExpr":"replace(datum.label, '.', '·')","ticks":false,"domain":true,"labelPadding":7,"title":"Pdf interaction strength","titlePadding":12}}
    }}
  ],
  "resolve":{"axis":{"x":"independent"}}
 }
]
}
